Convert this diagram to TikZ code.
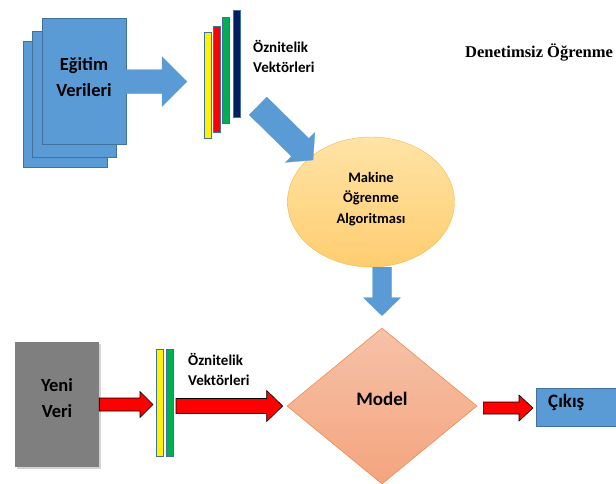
\documentclass[tikz,border=0pt]{standalone}
\usepackage{fontspec}
\setmainfont{Carlito}
\newfontfamily\titlefont{Liberation Serif}
\usetikzlibrary{calc,shapes.geometric,shadows}
\definecolor{ofisblue}{HTML}{5B9BD5}
\definecolor{ofisblueline}{HTML}{41719C}
\definecolor{ofisgreen}{HTML}{00B050}
\definecolor{ofisnavy}{HTML}{002060}
\definecolor{ofisgray}{HTML}{7F7F7F}
\definecolor{goldtop}{HTML}{FFE3A6}
\definecolor{goldbot}{HTML}{FFCD70}
\definecolor{goldline}{HTML}{F4B942}
\definecolor{salmontop}{HTML}{F6C2A8}
\definecolor{salmonbot}{HTML}{F4A47E}
\definecolor{salmonline}{HTML}{F08A4B}
\def\blockarrow[#1](#2)(#3)(#4:#5:#6){\coordinate (ba-h) at ($(#3)!#6!(#2)$);
	\draw[#1] ($(#2)!#4!90:(#3)$) -- ($(ba-h)!#4!90:(#3)$) -- ($(ba-h)!#5!90:(#3)$) -- (#3) -- ($(ba-h)!#5!-90:(#3)$) -- ($(ba-h)!#4!-90:(#3)$) -- ($(#2)!#4!-90:(#3)$) -- cycle;}
\tikzset{
	pagebox/.style={draw=ofisblueline, fill=ofisblue, minimum width=84pt, minimum height=126pt, inner sep=0pt},
	barbox/.style={draw=ofisblueline, line width=0.4pt, minimum width=7pt, inner sep=0pt},
	blockblue/.style={fill=ofisblue, draw=ofisblue, line width=0.3pt},
	blockred/.style={fill=red, draw=black, line width=0.6pt},
	featlabel/.style={align=left, anchor=west, inner sep=0pt, font=\fontsize{15}{20}\selectfont\bfseries},
	bigtext/.style={font=\fontsize{18.5}{26}\selectfont\bfseries, align=center}
}
\begin{document}
\begin{tikzpicture}[x=1pt,y=-1pt]
		%%%%% START %%%%%
		\useasboundingbox (0,0) rectangle (616,483);
		\clip (0,0) rectangle (616,483);
		
		\node[anchor=base west, inner sep=0pt, font=\titlefont\fontsize{16.5}{18}\selectfont\bfseries] (title) at (465,57) {Denetimsiz Öğrenme};
		
		% egitim verileri
		\node[pagebox] (back) at (65,104) {};
		\node[pagebox] (mid) at (74,94) {};
		\node[pagebox, bigtext, text depth=10pt] (front) at (84,81.5) {Eğitim\\Verileri};
		
		\node[barbox, fill=yellow, minimum height=106pt] (bar1) at (208,85) {};
		\node[barbox, fill=red, minimum height=106pt] (bar2) at (216.5,79) {};
		\node[barbox, fill=ofisgreen, minimum height=106pt] (bar3) at (225.5,70) {};
		\node[barbox, fill=ofisnavy, minimum height=107pt] (bar4) at (237,63.5) {};
		\node[featlabel] (feat1) at (253,56) {Öznitelik\\Vektörleri};
		
		\coordinate (tip1) at (187,81.5);
		\blockarrow[blockblue](front.east)(tip1)(12pt:25pt:25pt);
		
		\node[ellipse, draw=goldline, top color=goldtop, bottom color=goldbot, minimum width=167pt, minimum height=130pt, inner sep=0pt, align=center, text depth=9pt, font=\fontsize{14.5}{20.5}\selectfont\bfseries] (algo) at (371,202) {Makine\\Öğrenme\\Algoritması};
		
		\coordinate (tail2) at (258,106);
		\coordinate (tip2) at (313,160);
		\blockarrow[blockblue](tail2)(tip2)(12.5pt:21pt:18pt);
		
		% yeni veri
		\node[fill=ofisgray, minimum width=84pt, minimum height=125pt, inner sep=0pt, bigtext, text depth=12pt, drop shadow={shadow xshift=1.5pt, shadow yshift=-1.5pt, opacity=0.35}] (yeni) at (57,404.5) {Yeni\\Veri};
		
		\node[barbox, fill=yellow, minimum height=107pt] (bar5) at (159.5,402.5) {};
		\node[barbox, fill=ofisgreen, minimum height=107pt] (bar6) at (169.5,402.5) {};
		\node[featlabel] (feat2) at (188,369) {Öznitelik\\Vektörleri};
		
		\node[diamond, draw=salmonline, line width=0.6pt, top color=salmontop, bottom color=salmonbot, minimum width=190pt, minimum height=156pt, aspect=1.22, inner sep=0pt, text depth=14pt, font=\fontsize{19}{22}\selectfont\bfseries] (model) at (382,406) {Model};
		
		\node[draw=ofisblueline, fill=ofisblue, anchor=west, minimum height=38pt, text width=80pt, inner xsep=12pt, align=left, text depth=12pt, font=\fontsize{19}{22}\selectfont\bfseries] (out) at (536,407) {Çıkış};
		
		\coordinate (tail3) at (model.north |- algo.south);
		\coordinate (tip3) at ($(model.north)+(0,-12)$);
		\blockarrow[blockblue](tail3)(tip3)(9.5pt:18.5pt:18pt);
		
		\coordinate (tipA) at (153,404.5);
		\blockarrow[blockred](yeni.east)(tipA)(6.5pt:13pt:13pt);
		
		\coordinate (tailB) at (176,406);
		\coordinate (tipB) at ($(model.west)+(-4,0)$);
		\blockarrow[blockred](tailB)(tipB)(7.5pt:15.5pt:16pt);
		
		\coordinate (tailC) at ($(model.east)+(6,2)$);
		\coordinate (tipC) at ($(out.west)+(-3,1)$);
		\blockarrow[blockred](tailC)(tipC)(6pt:13pt:14pt);
		
		%%%%% END %%%%%
	\end{tikzpicture}
\end{document}
